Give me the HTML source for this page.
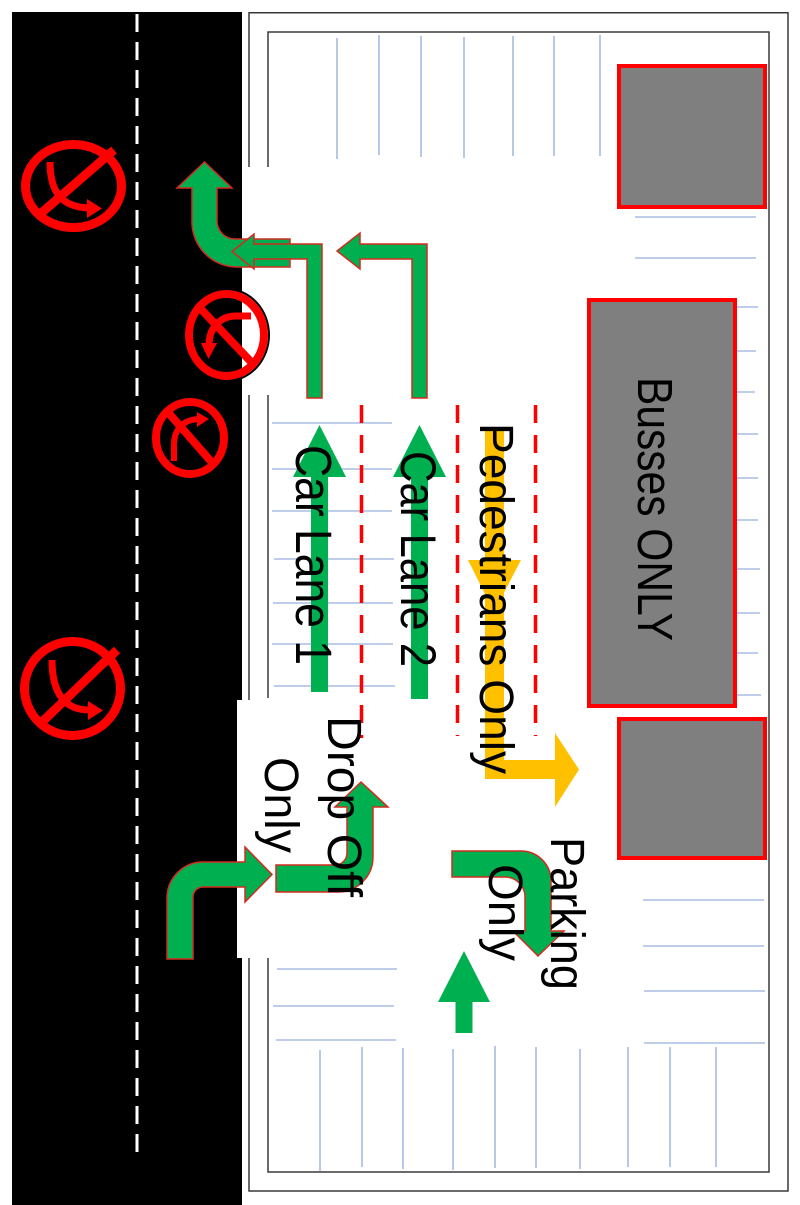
<!DOCTYPE html>
<html>
<head>
<meta charset="utf-8">
<style>
  html,body{margin:0;padding:0;background:#fff;}
  svg{display:block;}
  text{font-family:"Liberation Sans",Arial,sans-serif;fill:#000;}
</style>
</head>
<body>
<svg width="800" height="1205" viewBox="0 0 800 1205" xmlns="http://www.w3.org/2000/svg">
  <!-- Road -->
  <rect x="12" y="12" width="230" height="1193" fill="#000"/>
  <!-- white cut for drop-off gap -->
  <rect x="237" y="700" width="12" height="258" fill="#fff"/>
  <!-- center dashed line -->
  <line x1="137" y1="14" x2="137" y2="1158" stroke="#fff" stroke-width="3" stroke-dasharray="18 10"/>

  <!-- Outer border -->
  <g stroke="#3a3a3a" stroke-width="1.5" fill="none">
    <polyline points="249,167 249,12.7 788,12.7 788,1191 249,1191 249,958"/>
    <line x1="249" y1="395" x2="249" y2="700"/>
    <!-- Inner border -->
    <polyline points="268,167 268,32 769,32 769,1172 268,1172 268,958"/>
    <line x1="268" y1="395" x2="268" y2="698"/>
  </g>

  <!-- Blue parking lines -->
  <g stroke="#7e9dd6" stroke-width="1.1">
    <!-- top verticals -->
    <line x1="337" y1="38" x2="337" y2="159"/>
    <line x1="379" y1="35" x2="379" y2="155"/>
    <line x1="421" y1="36" x2="421" y2="157"/>
    <line x1="464" y1="37" x2="464" y2="158"/>
    <line x1="513" y1="36" x2="513" y2="156"/>
    <line x1="554" y1="36" x2="554" y2="156"/>
    <line x1="600" y1="35" x2="600" y2="156"/>
    <!-- between top box and bus box -->
    <line x1="635" y1="217" x2="756" y2="217"/>
    <line x1="635" y1="258" x2="756" y2="258"/>
    <!-- right of bus box -->
    <line x1="737" y1="307" x2="758" y2="307"/>
    <line x1="737" y1="351" x2="756" y2="351"/>
    <line x1="737" y1="392" x2="755" y2="392"/>
    <line x1="737" y1="434" x2="758" y2="434"/>
    <line x1="737" y1="478" x2="758" y2="478"/>
    <line x1="737" y1="520" x2="758" y2="520"/>
    <line x1="737" y1="569" x2="760" y2="569"/>
    <line x1="737" y1="613" x2="760" y2="613"/>
    <line x1="737" y1="653" x2="758" y2="653"/>
    <line x1="737" y1="695" x2="761" y2="695"/>
    <!-- lane-side horizontals -->
    <line x1="272" y1="423" x2="392" y2="423"/>
    <line x1="272" y1="469" x2="392" y2="469"/>
    <line x1="272" y1="511" x2="392" y2="511"/>
    <line x1="274" y1="559" x2="394" y2="559"/>
    <line x1="273" y1="603" x2="393" y2="603"/>
    <line x1="272" y1="644" x2="393" y2="644"/>
    <line x1="274" y1="686" x2="395" y2="686"/>
    <!-- bottom-left horizontals -->
    <line x1="277" y1="969" x2="397" y2="969"/>
    <line x1="273" y1="1006" x2="394" y2="1006"/>
    <line x1="276" y1="1040" x2="396" y2="1040"/>
    <!-- bottom-right horizontals -->
    <line x1="643" y1="900" x2="764" y2="900"/>
    <line x1="643" y1="946" x2="764" y2="946"/>
    <line x1="644" y1="991" x2="765" y2="991"/>
    <line x1="644" y1="1043" x2="765" y2="1043"/>
    <!-- bottom verticals -->
    <line x1="320" y1="1050" x2="320" y2="1171"/>
    <line x1="362" y1="1047" x2="362" y2="1167"/>
    <line x1="403" y1="1048" x2="403" y2="1169"/>
    <line x1="453" y1="1049" x2="453" y2="1170"/>
    <line x1="495" y1="1046" x2="495" y2="1168"/>
    <line x1="536" y1="1047" x2="536" y2="1168"/>
    <line x1="580" y1="1049" x2="580" y2="1169"/>
    <line x1="628" y1="1047" x2="628" y2="1167"/>
    <line x1="670" y1="1047" x2="670" y2="1167"/>
    <line x1="716" y1="1047" x2="716" y2="1167"/>
  </g>

  <!-- Gray boxes -->
  <g fill="#7f7f7f" stroke="#ff0000" stroke-width="4">
    <rect x="619" y="66" width="146" height="141"/>
    <rect x="589" y="300" width="146" height="406"/>
    <rect x="619" y="719" width="146" height="139"/>
  </g>

  <!-- Red dashed lane separators -->
  <g stroke="#ff0000" stroke-width="3.5" stroke-dasharray="18 12">
    <line x1="361.5" y1="405" x2="361.5" y2="738"/>
    <line x1="457.5" y1="405" x2="457.5" y2="736"/>
    <line x1="535.5" y1="405" x2="535.5" y2="736"/>
  </g>

  <!-- Yellow pedestrian arrow -->
  <g fill="#ffc000">
    <rect x="485" y="430" width="19" height="349"/>
    <polygon points="468,560 521,560 494,612"/>
    <rect x="485" y="760" width="72" height="19"/>
    <polygon points="555,733 579,769.5 555,807"/>
  </g>

  <!-- Green car lane arrows (plain) -->
  <g fill="#00b050">
    <rect x="311" y="476" width="17" height="216"/>
    <polygon points="293,477 319.5,425 346,477"/>
    <rect x="411" y="476" width="17" height="223"/>
    <polygon points="393,477 419.5,425 446,477"/>
    <rect x="455.5" y="1001" width="17" height="32"/>
    <polygon points="438,1002 464,951 490,1002"/>
  </g>

  <!-- Outlined green arrows -->
  <g fill="#00b050" stroke="#d42a1f" stroke-width="1.5" stroke-linejoin="miter">
    <path d="M290,239 L235,239 A18,18 0 0 1 217,221 L217,188 L232,188 L204.5,162 L177,188 L192,188 L192,222 A45,45 0 0 0 237,267 L290,267 Z"/>
    <path d="M307,398 L307,259 L254,259 L254,269 L232,251.5 L254,234 L254,244 L322,244 L322,398 Z"/>
    <path d="M412,398 L412,259 L360,259 L360,269 L337,251 L360,233 L360,244 L427,244 L427,398 Z"/>
    <path d="M167,959 L167,898 A36,36 0 0 1 203,862 L245,862 L245,847 L272,874.5 L245,902 L245,887 L203,887 A10,10 0 0 0 193,897 L193,959 Z"/>
    <path d="M276,865 L335,865 A12,12 0 0 0 347,853 L347,807 L335,807 L361,782 L388,807 L373,807 L373,857 A35,35 0 0 1 338,892 L276,892 Z"/>
    <path d="M452,851 L521,851 A30,30 0 0 1 551,881 L551,931 L564,931 L538,956 L513,931 L525,931 L525,897 A20,20 0 0 0 505,877 L452,877 Z"/>
  </g>

  <!-- No-turn signs -->
  <g>
    <ellipse cx="73.5" cy="186" rx="48" ry="41.5" fill="none" stroke="#ff0000" stroke-width="9"/>
    <line x1="114" y1="150" x2="39" y2="215" stroke="#ff0000" stroke-width="9"/>
    <path d="M50,162 C50,195 64,207 89,208" fill="none" stroke="#ff0000" stroke-width="7"/>
    <polygon points="87,199 102,208.5 87,218" fill="#ff0000"/>
  </g>
  <g>
    <ellipse cx="72.5" cy="688.5" rx="48" ry="47" fill="none" stroke="#ff0000" stroke-width="9"/>
    <line x1="117" y1="650" x2="42" y2="722" stroke="#ff0000" stroke-width="9"/>
    <path d="M52,660 C52,695 66,710 89,710" fill="none" stroke="#ff0000" stroke-width="7"/>
    <polygon points="88,701 103,710.5 88,720" fill="#ff0000"/>
  </g>
  <g>
    <ellipse cx="226.5" cy="335" rx="42.5" ry="46" fill="none" stroke="#000" stroke-width="2"/>
    <ellipse cx="226.5" cy="335" rx="37.5" ry="41" fill="none" stroke="#ff0000" stroke-width="8"/>
    <line x1="199" y1="307" x2="254" y2="365" stroke="#ff0000" stroke-width="8"/>
    <path d="M251,316 L236,316 C220,316 209,328 209,345" fill="none" stroke="#ff0000" stroke-width="7"/>
    <polygon points="201,343 208.5,359 217,343" fill="#ff0000"/>
  </g>
  <g>
    <ellipse cx="190" cy="438" rx="34" ry="36" fill="none" stroke="#ff0000" stroke-width="8"/>
    <line x1="166" y1="410" x2="215" y2="466" stroke="#ff0000" stroke-width="8"/>
    <path d="M174,461 L174,445 C174,428 184,420 198,419" fill="none" stroke="#ff0000" stroke-width="6"/>
    <polygon points="197,412 209,419 197,427" fill="#ff0000"/>
  </g>

  <!-- Labels -->
  <text transform="translate(296,445) rotate(90)" font-size="51" textLength="220" lengthAdjust="spacingAndGlyphs">Car Lane 1</text>
  <text transform="translate(401,451) rotate(90)" font-size="50" textLength="216" lengthAdjust="spacingAndGlyphs">Car Lane 2</text>
  <text transform="translate(480,423) rotate(90)" font-size="48" textLength="351" lengthAdjust="spacingAndGlyphs">Pedestrians Only</text>
  <text transform="translate(638,377) rotate(90)" font-size="49" textLength="264" lengthAdjust="spacingAndGlyphs">Busses ONLY</text>
  <text transform="translate(328,716) rotate(90)" font-size="48" textLength="181" lengthAdjust="spacingAndGlyphs">Drop Off</text>
  <text transform="translate(265,757) rotate(90)" font-size="48" textLength="96" lengthAdjust="spacingAndGlyphs">Only</text>
  <text transform="translate(551,837) rotate(90)" font-size="48" textLength="153" lengthAdjust="spacingAndGlyphs">Parking</text>
  <text transform="translate(489,864) rotate(90)" font-size="48" textLength="97" lengthAdjust="spacingAndGlyphs">Only</text>
</svg>
</body>
</html>
